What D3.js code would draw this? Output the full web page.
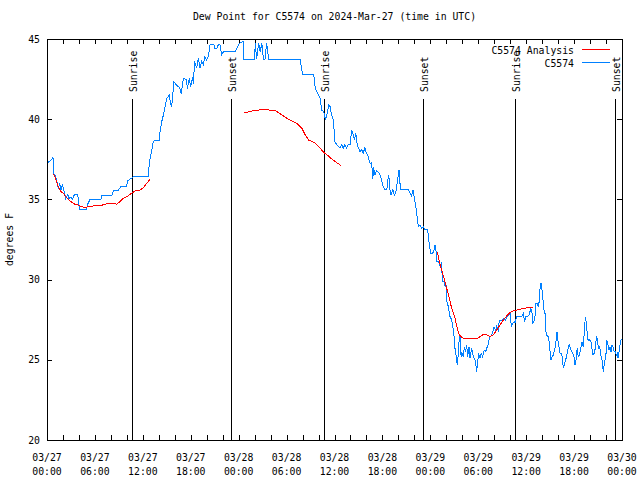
<!DOCTYPE html>
<html>
<head>
<meta charset="utf-8">
<script src="https://cdn.jsdelivr.net/npm/d3@7"></script>
<style>
  html, body { margin: 0; padding: 0; background: #fff; }
  svg { display: block; }
  text { font-family: "DejaVu Sans Mono", monospace; font-size: 9.8px; fill: #000; }
</style>
</head>
<body>
<svg id="chart" width="640" height="480"></svg>
<script>
// ---------------- DATA ----------------
const chartTitle = "Dew Point for C5574 on 2024-Mar-27 (time in UTC)";
const yLabel = "degrees F";
const seriesNames = ["C5574 Analysis", "C5574"];
const seriesColors = ["#ff0000", "#0080ff"];

// hours since 2024-03-27 00:00 UTC
const stationHours = [0.0,0.5,0.75,0.83,1.0,1.2,1.42,1.6,1.75,1.92,2.1,2.34,2.6,2.75,3.0,3.2,3.42,3.85,3.95,4.13,4.93,5.1,5.38,6.76,6.85,8.15,8.3,8.9,9.27,9.95,10.1,10.5,10.8,12.7,12.77,12.81,13.1,13.31,13.52,14.06,14.15,14.36,14.57,14.78,14.99,15.32,15.49,15.61,15.74,15.9,16.24,16.57,16.82,17.07,17.49,17.57,17.82,17.99,18.24,18.32,18.49,18.74,18.95,19.16,19.37,19.57,19.78,19.99,20.2,20.41,20.91,21.04,21.24,21.45,21.66,21.87,22.08,23.54,23.96,24.15,24.55,24.63,26.0,26.08,26.25,26.5,26.7,26.9,27.1,27.3,27.5,27.76,31.7,32.0,33.4,33.6,33.9,34.2,34.4,34.65,34.85,35.05,35.3,35.45,35.6,35.85,36.06,36.3,36.7,36.9,37.1,37.3,37.5,37.7,37.94,38.15,38.3,38.5,38.65,38.85,39.19,39.4,39.6,39.8,40.0,40.2,40.45,40.65,40.8,40.9,41.05,41.25,41.5,41.75,42.1,42.3,42.55,42.65,42.79,42.95,43.08,43.3,43.5,43.7,43.9,44.08,44.2,44.33,45.24,45.45,45.65,45.85,46.05,46.2,46.35,46.5,46.7,46.9,47.1,47.3,47.6,47.75,47.87,48.04,48.3,48.46,48.59,48.7,48.8,49.05,49.2,49.35,49.45,49.55,49.7,49.85,49.95,50.05,50.26,50.46,50.67,50.88,51.0,51.09,51.22,51.38,51.5,51.6,51.71,51.85,51.93,52.13,52.26,52.4,52.55,52.68,52.84,52.97,53.17,53.38,53.59,53.72,53.8,53.92,54.05,54.22,54.38,54.55,54.76,54.92,55.05,55.26,55.39,55.6,55.8,55.97,56.18,56.3,56.5,56.64,57.0,57.2,57.4,57.64,57.8,58.0,58.15,58.3,58.5,58.6,58.8,59.0,59.23,59.45,59.65,59.8,59.95,60.15,60.35,60.6,60.72,60.82,60.97,61.1,61.23,61.4,61.5,61.62,61.72,61.86,61.98,62.07,62.15,62.28,62.4,62.48,62.65,62.78,62.9,63.0,63.11,63.25,63.4,63.6,63.72,63.86,63.98,64.15,64.25,64.45,64.58,64.65,64.78,64.95,65.1,65.25,65.4,65.52,65.7,65.82,65.98,66.12,66.25,66.38,66.5,66.6,66.75,66.9,67.0,67.15,67.28,67.41,67.5,67.6,67.75,67.85,68.0,68.12,68.24,68.38,68.5,68.65,68.8,68.92,69.05,69.2,69.35,69.5,69.66,69.74,69.87,70.0,70.12,70.25,70.38,70.5,70.62,70.75,70.9,71.02,71.16,71.3,71.4,71.5,71.6,71.72,71.84,72.0];
const stationValues = [37.25,37.45,37.62,36.6,36.5,36.2,35.7,36.0,35.6,35.9,35.6,35.07,35.3,35.07,35.15,35.0,35.3,35.3,34.8,34.34,34.34,34.7,35.0,35.0,35.27,35.27,35.54,35.54,35.83,35.83,36.15,36.3,36.4,36.4,37.0,37.35,37.97,38.6,38.7,38.7,39.2,39.84,40.26,40.78,41.3,41.5,40.9,40.8,41.5,42.34,42.1,42.0,41.6,42.55,42.45,41.9,42.55,42.03,42.65,42.2,43.6,43.2,43.8,43.17,43.6,43.4,43.9,43.7,43.9,44.63,44.63,44.4,44.4,44.63,44.63,44.0,44.2,44.2,44.6,44.75,44.85,43.75,43.75,44.75,43.75,44.75,44.2,44.75,43.75,43.75,44.75,43.75,43.75,42.76,42.76,41.93,41.6,41.3,40.57,40.47,39.95,40.3,40.9,40.78,40.37,39.95,38.6,38.4,38.2,38.4,38.2,38.4,38.2,38.4,38.4,39.3,39.1,38.7,39.15,38.4,37.97,38.1,37.9,38.2,37.9,37.7,37.25,37.3,36.3,37.0,36.5,36.8,36.7,36.5,35.8,35.6,35.6,36.1,36.5,35.6,35.27,35.6,35.27,35.5,36.2,36.83,36.0,35.6,35.6,35.4,35.2,35.6,34.9,34.5,33.9,33.3,33.4,33.2,33.3,33.15,33.15,32.8,32.16,31.64,31.64,31.85,32.16,31.9,31.1,31.1,30.9,31.0,30.5,29.87,29.9,29.56,29.8,28.7,28.3,27.7,27.5,26.86,26.34,25.7,25.3,24.68,25.4,26.2,26.55,25.2,25.5,25.2,25.8,25.5,25.9,25.2,25.8,25.1,25.7,25.2,25.0,24.6,24.26,24.8,25.4,25.1,25.4,25.2,25.6,25.5,25.7,26.0,26.34,26.5,26.7,27.06,26.86,27.06,26.86,27.48,27.48,27.55,27.48,27.7,27.8,27.9,27.06,27.27,27.37,27.3,27.7,27.7,27.69,27.69,27.9,27.37,27.69,27.69,27.8,28.2,28.0,27.27,27.37,27.69,28.52,28.52,28.3,28.6,29.35,29.77,29.35,28.95,28.5,27.9,27.9,26.75,26.45,26.45,26.05,25.5,24.99,25.2,25.3,25.7,26.1,26.75,26.2,25.7,25.4,25.4,24.9,24.47,24.7,25.0,25.3,25.7,26.0,25.7,25.5,25.4,25.2,24.68,25.0,25.7,25.3,25.2,25.5,25.9,26.1,25.8,26.75,27.69,27.37,26.85,26.2,26.3,26.2,26.1,25.7,25.3,25.4,25.7,26.4,26.3,25.7,25.8,25.3,25.0,24.26,24.6,25.0,25.4,26.2,25.9,25.6,25.8,25.5,25.9,25.8,25.5,25.5,25.3,25.4,25.1,25.4,25.8,26.2,26.3];

// analysis series (null = gap)
const analysisHours = [0.79,1.0,1.21,1.42,1.75,2.04,2.34,2.67,3.09,3.5,3.92,4.34,4.76,5.17,5.8,6.64,7.26,7.68,8.1,8.72,9.14,9.56,9.98,10.6,11.02,11.65,12.06,12.48,12.9,18.0,24.63,25.2,25.67,26.5,26.9,27.34,28.59,29.0,29.43,30.05,30.68,31.3,31.93,32.35,32.77,33.18,33.6,34.02,34.44,34.85,35.27,35.69,36.27,36.81,42.0,48.88,49.13,49.42,49.71,50.05,50.38,50.67,51.09,51.38,51.63,51.92,52.34,52.97,53.8,54.22,54.63,55.06,55.47,55.89,56.31,56.72,57.14,57.56,57.98,58.39,58.81,59.23,59.85,60.4,60.9];
const analysisValues = [36.57,36.42,36.1,35.8,35.48,35.38,35.17,35.0,34.82,34.7,34.65,34.55,34.48,34.55,34.59,34.6,34.7,34.76,34.76,34.7,34.86,35.07,35.17,35.38,35.52,35.59,35.73,36.0,36.25,null,40.43,40.45,40.51,40.57,40.62,40.6,40.53,40.4,40.26,40.05,39.89,39.74,39.43,39.0,38.7,38.6,38.5,38.29,38.05,37.85,37.7,37.5,37.29,37.12,null,31.74,31.12,30.6,30.08,29.46,28.84,28.21,27.59,26.96,26.55,26.4,26.3,26.3,26.3,26.44,26.58,26.55,26.44,26.55,26.86,27.17,27.48,27.73,27.94,28.06,28.1,28.15,28.21,28.27,28.27];

// sunrise / sunset markers (hours since start)
const sunHours = [10.68, 23.08, 34.72, 47.12, 58.64, 71.16];
const sunLabels = ["Sunrise", "Sunset", "Sunrise", "Sunset", "Sunrise", "Sunset"];

// axes
const yTicks = [20, 25, 30, 35, 40, 45];
const xTickHours = [0,2,4,6,8,10,12,14,16,18,20,22,24,26,28,30,32,34,36,38,40,42,44,46,48,50,52,54,56,58,60,62,64,66,68,70,72];
const xLabelHours = [0,6,12,18,24,30,36,42,48,54,60,66,72];
const xLabelDates = ["03/27","03/27","03/27","03/27","03/28","03/28","03/28","03/28","03/29","03/29","03/29","03/29","03/30"];
const xLabelTimes = ["00:00","06:00","12:00","18:00","00:00","06:00","12:00","18:00","00:00","06:00","12:00","18:00","00:00"];

// ---------------- DRAW ----------------
const L = 47, R = 622, T = 39, B = 440;
const svg = d3.select("#chart");
const x = d3.scaleLinear().domain([0, 72]).range([L, R]);
const y = d3.scaleLinear().domain([20, 45]).range([B, T]);

// title
svg.append("text").attr("x", (L + R) / 2).attr("y", 20)
  .attr("text-anchor", "middle").text(chartTitle);

// y label
svg.append("text").attr("transform", `translate(13,${(T + B) / 2}) rotate(-90)`)
  .attr("text-anchor", "middle").text(yLabel);

// ticks (inward, all four sides)
const tk = 5;
const axG = svg.append("g").attr("shape-rendering", "crispEdges");
axG.append("g").attr("transform", `translate(0,${B})`)
  .call(d3.axisTop(x).tickValues(xTickHours).tickSize(tk).tickFormat(""))
  .call(g => g.select(".domain").remove());
axG.append("g").attr("transform", `translate(0,${T})`)
  .call(d3.axisBottom(x).tickValues(xTickHours).tickSize(tk).tickFormat(""))
  .call(g => g.select(".domain").remove());
axG.append("g").attr("transform", `translate(${L},0)`)
  .call(d3.axisRight(y).tickValues(yTicks).tickSize(tk).tickFormat(""))
  .call(g => g.select(".domain").remove());
axG.append("g").attr("transform", `translate(${R},0)`)
  .call(d3.axisLeft(y).tickValues(yTicks).tickSize(tk).tickFormat(""))
  .call(g => g.select(".domain").remove());
axG.selectAll(".tick line").attr("stroke", "#000");

// y tick labels
svg.append("g").selectAll("text").data(yTicks).join("text")
  .attr("x", L - 7).attr("y", d => y(d) + 3.5)
  .attr("text-anchor", "end").text(d => d);

// x tick labels (two lines)
const xl = svg.append("g").selectAll("g").data(xLabelHours).join("g")
  .attr("transform", d => `translate(${x(d)},0)`);
xl.append("text").attr("y", 461).attr("text-anchor", "middle").text((d, i) => xLabelDates[i]);
xl.append("text").attr("y", 475).attr("text-anchor", "middle").text((d, i) => xLabelTimes[i]);

// sunrise / sunset lines
const sun = svg.append("g");
sun.selectAll("line").data(sunHours).join("line")
  .attr("x1", d => Math.round(x(d)) + 0.5).attr("x2", d => Math.round(x(d)) + 0.5)
  .attr("y1", 99).attr("y2", B)
  .attr("stroke", "#000").attr("stroke-width", 1);
sun.selectAll("text").data(sunHours).join("text")
  .attr("transform", d => `translate(${Math.round(x(d)) + 5},92) rotate(-90)`)
  .attr("text-anchor", "start").text((d, i) => sunLabels[i]);

// data lines
const clip = svg.append("clipPath").attr("id", "clip").append("rect")
  .attr("x", L).attr("y", T).attr("width", R - L).attr("height", B - T);

const lineGen = d3.line()
  .defined(d => d[1] !== null)
  .x(d => x(d[0])).y(d => y(d[1]));

const stationData = stationHours.map((h, i) => [h, stationValues[i]]);
const analysisData = analysisHours.map((h, i) => [h, analysisValues[i]]);

svg.append("path").datum(stationData)
  .attr("clip-path", "url(#clip)")
  .attr("fill", "none").attr("stroke", seriesColors[1]).attr("stroke-width", 1)
  .attr("shape-rendering", "crispEdges")
  .attr("d", lineGen);
svg.append("path").datum(analysisData)
  .attr("clip-path", "url(#clip)")
  .attr("fill", "none").attr("stroke", seriesColors[0]).attr("stroke-width", 1)
  .attr("shape-rendering", "crispEdges")
  .attr("d", lineGen);

// border
svg.append("rect").attr("x", L + 0.5).attr("y", T + 0.5)
  .attr("width", R - L).attr("height", B - T)
  .attr("fill", "none").attr("stroke", "#000").attr("shape-rendering", "crispEdges");

// legend
const leg = svg.append("g");
[0, 1].forEach(i => {
  const yy = 49.5 + i * 13;
  leg.append("text").attr("x", 574).attr("y", yy + 4).attr("text-anchor", "end").text(seriesNames[i]);
  leg.append("line").attr("x1", 582).attr("x2", 610).attr("y1", yy).attr("y2", yy)
    .attr("stroke", seriesColors[i]).attr("stroke-width", 1).attr("shape-rendering", "crispEdges");
});
</script>
</body>
</html>
